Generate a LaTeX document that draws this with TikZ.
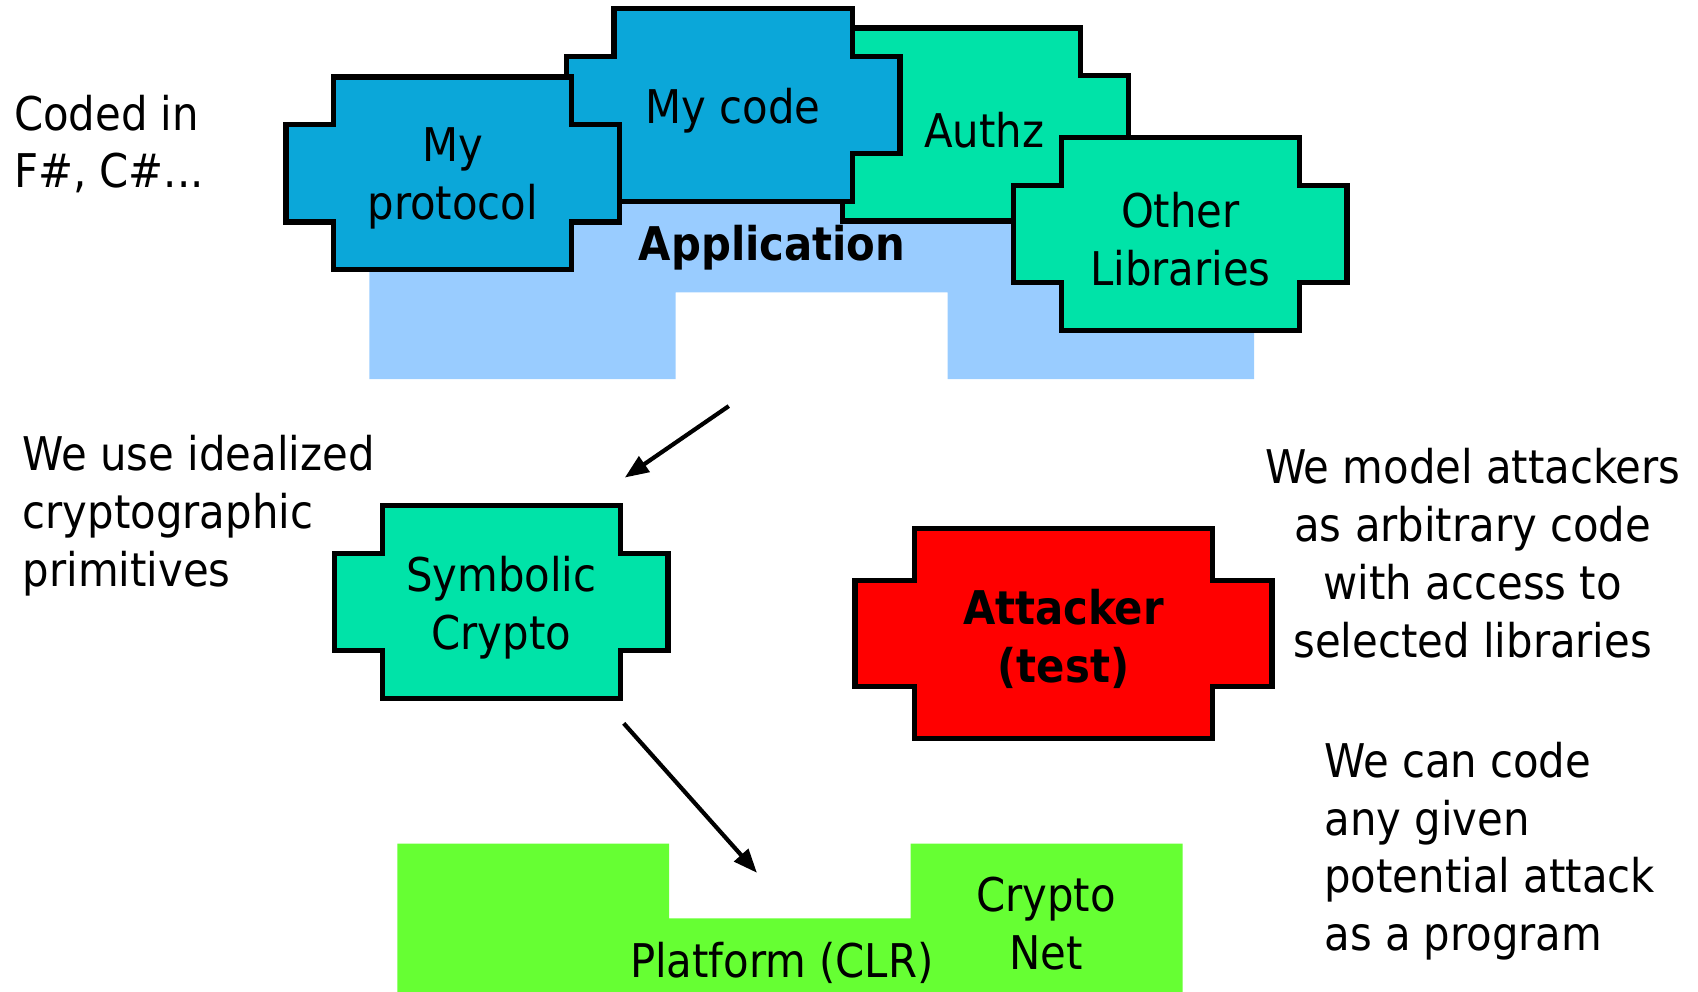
\documentclass[tikz,border=0pt]{standalone}
\usepackage{fontspec}
\setmainfont{DejaVu Sans Condensed}
\usetikzlibrary{arrows.meta}

\definecolor{codeblue}{RGB}{11,167,217}
\definecolor{libgreen}{RGB}{0,227,168}
\definecolor{appblue}{RGB}{153,204,255}
\definecolor{clrgreen}{RGB}{102,255,51}

% cross shaped block with a centred label
\newcommand{\tikzBlockNode}[5][]{
  \begin{scope}[shift={(#3)},#1]
  \path[draw,line width=1.4pt,fill=#4] (-110,-89) -- (110,-89) -- (110,-45) -- (154,-45) -- (154,45)
    -- (110,45) -- (110,89) -- (-110,89) -- (-110,45) -- (-154,45) -- (-154,-45) -- (-110,-45) -- cycle;
  \end{scope}
  \node[align=center,yshift=-0.05cm] (#2) at (#3) {#5};
}

\begin{document}
\begin{tikzpicture}[x=0.01cm,y=-0.01cm,semithick,
  every node/.style={font=\fontsize{12.2}{15.2}\selectfont,inner sep=0pt},
  flow/.style={line width=1.1pt,-{Triangle[length=2.2mm,width=1.7mm]}}]

  \useasboundingbox (0,0) rectangle (1568,916);

  % application layer
  \path[fill=appblue] (341,180) -- (1158,180) -- (1158,350) -- (875,350) -- (875,270)
    -- (624,270) -- (624,350) -- (341,350) -- cycle;

  \tikzBlockNode[xshift=-0.21cm]{authz}{909,115}{libgreen}{Authz}
  \tikzBlockNode{code}{677,97}{codeblue}{My code}
  \tikzBlockNode{proto}{418,160}{codeblue}{My\\protocol}
  \tikzBlockNode{libs}{1090,216}{libgreen}{Other\\Libraries}
  \node (app) at (713,229) {\textbf{Application}};

  \tikzBlockNode{sym}{463,556}{libgreen}{Symbolic\\Crypto}
  \tikzBlockNode[xscale=1.25,yscale=1.09]{att}{982,585}{red}{\textbf{Attacker}\\\textbf{(test)}}

  % platform layer
  \path[fill=clrgreen] (367,779) -- (618,779) -- (618,848) -- (841,848) -- (841,779)
    -- (1092,779) -- (1092,916) -- (367,916) -- cycle;
  \node (clr) at (722,889) {Platform (CLR)};
  \node[align=center] (net) at (966,853) {Crypto\\Net};

  \node[anchor=west,align=left] (coded) at (12,133) {Coded in\\F\#, C\#...};
  \node[anchor=west,align=left] (ideal) at (20,476) {We use idealized\\cryptographic\\primitives};
  \node[align=center] (model) at (1360,511) {We model attackers\\as arbitrary code\\with access to\\selected libraries};
  \node[anchor=west,align=left] (prog) at (1222,786) {We can code\\any given\\potential attack\\as a program};

  \coordinate (appout) at (673,375);
  \coordinate (symin) at (577,441);
  \coordinate (symout) at (576,668);
  \coordinate (clrin) at (699,806);
  \draw[flow] (appout) -- (symin);
  \draw[flow] (symout) -- (clrin);

\end{tikzpicture}
\end{document}
